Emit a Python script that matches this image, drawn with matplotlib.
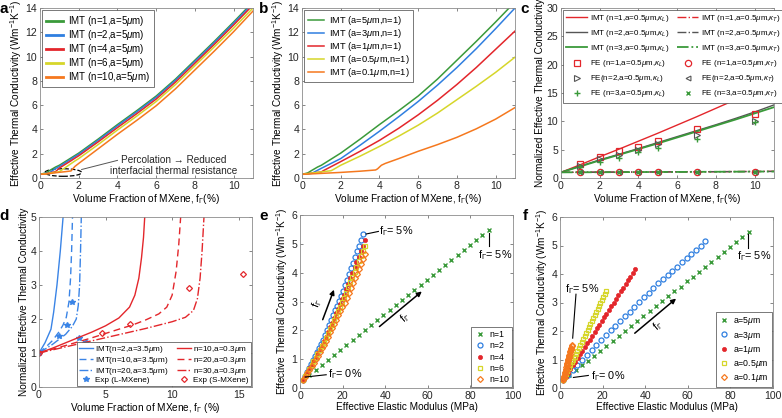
import matplotlib
matplotlib.use('Agg')
import matplotlib.pyplot as plt
from matplotlib.patches import Ellipse

plt.rcParams['font.family'] = ['Liberation Sans', 'DejaVu Sans']
plt.rcParams['mathtext.fontset'] = 'custom'
plt.rcParams['mathtext.rm'] = 'Liberation Sans'
plt.rcParams['mathtext.it'] = 'Liberation Sans:italic'
plt.rcParams['mathtext.bf'] = 'Liberation Sans:bold'

GREEN = '#3a9a3a'; BLUE = '#2f7fe0'; RED = '#e3262b'; YELLOW = '#d6d62a'
ORANGE = '#f5781e'; GRAY = '#555555'

# ---------------- Panel a data ----------------
xa = [0, 0.3, 0.5, 0.8, 1.0, 1.3, 1.6, 1.8, 2.0, 3, 4, 5, 6, 7, 8, 9, 10, 11]
a_n1 = [0.3, 0.42, 0.62, 0.9, 1.05, 1.35, 1.65, 1.85, 2.05, 3.2, 4.4, 5.55, 6.75, 8.15, 9.7, 11.25, 12.85, 14.5]
a_n2 = [0.3, 0.38, 0.45, 0.78, 0.95, 1.25, 1.55, 1.76, 1.96, 3.1, 4.3, 5.45, 6.65, 8.05, 9.6, 11.15, 12.75, 14.4]
a_n4 = [0.3, 0.36, 0.42, 0.52, 0.82, 1.12, 1.42, 1.63, 1.83, 2.97, 4.15, 5.3, 6.5, 7.9, 9.45, 11.0, 12.6, 14.25]
a_n6 = [0.3, 0.35, 0.4, 0.47, 0.52, 0.85, 1.18, 1.4, 1.6, 2.75, 3.95, 5.1, 6.3, 7.7, 9.25, 10.8, 12.35, 14.0]
a_n10 = [0.3, 0.33, 0.37, 0.43, 0.47, 0.52, 0.58, 0.95, 1.2, 2.4, 3.6, 4.75, 5.95, 7.35, 8.9, 10.45, 12.05, 13.75]
a_labels = ['IMT (n=1,a=5$\\mu$m)', 'IMT (n=2,a=5$\\mu$m)', 'IMT (n=4,a=5$\\mu$m)',
            'IMT (n=6,a=5$\\mu$m)', 'IMT (n=10,a=5$\\mu$m)']

# ---------------- Panel b data ----------------
b_a5_x = xa
b_a5_y = a_n1
b_a3_x = [0, 0.5, 1, 2, 3, 4, 5, 6, 7, 8, 9, 10, 11]
b_a3_y = [0.3, 0.38, 0.8, 1.6, 2.7, 3.85, 5.05, 6.3, 7.65, 9.1, 10.65, 12.3, 14.0]
b_a1_x = [0, 0.5, 1.0, 1.1, 2, 3, 4, 5, 6, 7, 8, 9, 10, 11]
b_a1_y = [0.3, 0.4, 0.5, 0.6, 1.35, 2.2, 3.1, 4.1, 5.2, 6.4, 7.7, 9.1, 10.6, 12.1]
b_a05_x = [0, 1.5, 1.6, 2, 3, 4, 5, 6, 7, 8, 9, 10, 11]
b_a05_y = [0.3, 0.6, 0.68, 1.05, 1.8, 2.6, 3.45, 4.35, 5.35, 6.45, 7.55, 8.7, 9.95]
b_a01_x = [0, 1, 2, 3, 3.8, 3.9, 4.1, 4.3, 5, 6, 7, 8, 9, 10, 11]
b_a01_y = [0.3, 0.38, 0.46, 0.56, 0.66, 0.75, 1.05, 1.2, 1.6, 2.2, 2.75, 3.35, 4.05, 4.85, 5.8]
b_labels = ['IMT (a=5$\\mu$m,n=1)', 'IMT (a=3$\\mu$m,n=1)', 'IMT (a=1$\\mu$m,n=1)',
            'IMT (a=0.5$\\mu$m,n=1)', 'IMT (a=0.1$\\mu$m,n=1)']

# ---------------- Panel c data ----------------
xc = [0, 1, 2, 3, 4, 5, 6, 7, 8, 9, 10, 11]
c_L_n1 = [1.0, 2.35, 3.75, 5.1, 6.5, 7.9, 9.35, 10.8, 12.3, 13.8, 15.3, 16.8]
c_L_n2 = [1.0, 2.1, 3.2, 4.2, 5.2, 6.25, 7.3, 8.35, 9.4, 10.5, 11.65, 12.9]
c_L_n3 = [1.0, 2.05, 3.1, 4.1, 5.1, 6.1, 7.15, 8.2, 9.25, 10.3, 11.4, 12.5]
xcT = [0, 2, 4, 6, 8, 10, 11]
c_T_n1 = [1.0, 1.03, 1.06, 1.09, 1.12, 1.16, 1.18]
c_T_n2 = [1.0, 1.03, 1.05, 1.08, 1.11, 1.14, 1.16]
c_T_n3 = [1.0, 1.02, 1.05, 1.07, 1.10, 1.13, 1.15]
c_fe_x = [1, 2, 3, 4, 5, 7, 10]
c_fe_L_n1 = [2.4, 3.7, 4.8, 5.5, 6.5, 8.7, 11.3]
c_fe_L_n2 = [2.2, 3.3, 4.0, 4.9, 6.0, 7.6, 10.0]
c_fe_L_n3 = [1.9, 2.9, 3.6, 4.6, 5.3, 6.8, 9.9]
c_fe_T_n1 = [1.0, 1.0, 1.0, 1.0, 1.0, 1.05, 1.08]
c_fe_T_n2 = [1.0, 1.0, 1.0, 1.0, 1.0, 1.02, 1.05]
c_fe_T_n3 = [1.0, 1.0, 1.0, 1.0, 1.0, 1.02, 1.05]

# ---------------- Panel d data ----------------
d_b2_x = [0, 0.45, 0.9, 1.1, 1.35, 1.6, 1.82]
d_b2_y = [1.0, 1.3, 1.7, 2.2, 3.0, 4.0, 5.05]
d_b10_x = [0, 0.5, 1.0, 1.5, 1.8, 2.05, 2.25, 2.37, 2.45, 2.52]
d_b10_y = [1.0, 1.17, 1.36, 1.62, 1.82, 2.05, 2.5, 3.2, 4.0, 5.05]
d_b20_x = [0, 1, 2, 2.5, 2.8, 2.95, 3.05, 3.12, 3.18]
d_b20_y = [1.0, 1.25, 1.55, 1.78, 2.0, 2.4, 3.0, 4.0, 5.05]
d_r10_x = [0, 1, 2, 3, 4, 5, 6, 6.8, 7.2, 7.5, 7.7, 7.85, 7.95]
d_r10_y = [1.0, 1.14, 1.3, 1.46, 1.62, 1.8, 2.03, 2.35, 2.7, 3.2, 3.8, 4.4, 5.05]
d_r20_x = [0, 2, 4, 6, 7, 8, 9, 9.6, 10.0, 10.3, 10.5, 10.65]
d_r20_y = [1.0, 1.22, 1.45, 1.7, 1.82, 1.97, 2.15, 2.35, 2.7, 3.4, 4.2, 5.05]
d_r30_x = [0, 2, 4, 6, 8, 10, 11, 11.6, 11.9, 12.1, 12.25, 12.4]
d_r30_y = [1.0, 1.18, 1.36, 1.54, 1.72, 1.92, 2.05, 2.25, 2.6, 3.2, 4.0, 5.05]
d_expL_x = [0, 1.5, 2.1, 2.5, 3.0, 3.5]
d_expL_y = [1.0, 1.5, 1.83, 2.5, 1.45, 1.33]
d_expS_x = [0, 4.7, 6.8, 11.3, 15.3]
d_expS_y = [1.0, 1.6, 1.85, 2.9, 3.32]

# ---------------- Panel e / f data (modulus MPa, conductivity) ----------------
g_E = [1.5, 4.4, 7.3, 10.2, 13.1, 16.0, 18.9, 21.8, 24.7, 27.6, 30.5, 33.4, 36.3, 39.2, 42.1, 45.0,
       47.9, 50.8, 53.7, 56.6, 59.5, 62.4, 65.3, 68.2, 71.1, 74.0, 76.9, 79.8, 82.7, 85.6, 88.5]
g_k = [0.27, 0.44, 0.62, 0.79, 0.96, 1.14, 1.31, 1.48, 1.66, 1.83, 2.00, 2.18, 2.35, 2.52, 2.70, 2.87,
       3.04, 3.22, 3.39, 3.56, 3.74, 3.91, 4.08, 4.26, 4.43, 4.60, 4.78, 4.95, 5.12, 5.30, 5.47]
e_n2_E = [1.5, 2.4, 3.4, 4.3, 5.2, 6.2, 7.1, 8.1, 9.0, 9.9, 10.9, 11.8, 12.7, 13.7, 14.6, 15.6,
          16.5, 17.4, 18.4, 19.3, 20.2, 21.2, 22.1, 23.1, 24.0, 24.9, 25.9, 26.8, 27.7, 28.7, 29.6]
e_n2_k = [0.27, 0.41, 0.55, 0.69, 0.83, 0.97, 1.11, 1.25, 1.39, 1.53, 1.67, 1.84, 2.01, 2.18, 2.35, 2.52,
          2.69, 2.86, 3.03, 3.20, 3.37, 3.57, 3.76, 3.96, 4.16, 4.35, 4.55, 4.74, 4.94, 5.14, 5.33]
e_n4_E = [1.5, 2.5, 3.4, 4.4, 5.4, 6.3, 7.3, 8.2, 9.2, 10.2, 11.1, 12.1, 13.1, 14.0, 15.0, 15.9,
          16.9, 17.9, 18.8, 19.8, 20.8, 21.7, 22.7, 23.6, 24.6, 25.6, 26.5, 27.5, 28.5, 29.4, 30.4]
e_n4_k = [0.27, 0.41, 0.54, 0.68, 0.81, 0.95, 1.08, 1.22, 1.35, 1.49, 1.62, 1.78, 1.94, 2.11, 2.27, 2.43,
          2.59, 2.75, 2.92, 3.08, 3.24, 3.43, 3.62, 3.80, 3.99, 4.18, 4.37, 4.56, 4.74, 4.93, 5.12]
e_n6_E = e_n4_E
e_n6_k = [0.27, 0.40, 0.53, 0.66, 0.79, 0.92, 1.05, 1.18, 1.31, 1.44, 1.57, 1.73, 1.88, 2.04, 2.19, 2.35,
          2.51, 2.66, 2.82, 2.97, 3.13, 3.31, 3.49, 3.67, 3.85, 4.03, 4.21, 4.39, 4.57, 4.75, 4.93]
e_n10_E = [1.5, 2.5, 3.4, 4.4, 5.4, 6.4, 7.3, 8.3, 9.3, 10.2, 11.2, 12.2, 13.1, 14.1, 15.1, 16.1,
           17.0, 18.0, 19.0, 19.9, 20.9, 21.9, 22.8, 23.8, 24.8, 25.8, 26.7, 27.7, 28.7, 29.6, 30.6]
e_n10_k = [0.27, 0.39, 0.51, 0.64, 0.76, 0.88, 1.00, 1.12, 1.25, 1.37, 1.49, 1.64, 1.78, 1.93, 2.08, 2.22,
           2.37, 2.52, 2.66, 2.81, 2.96, 3.13, 3.30, 3.46, 3.63, 3.80, 3.97, 4.13, 4.30, 4.47, 4.64]

f_a3_E = [1.5, 3.7, 6.0, 8.2, 10.4, 12.6, 14.9, 17.1, 19.3, 21.5, 23.8, 26.0, 28.2, 30.5, 32.7, 34.9,
          37.1, 39.4, 41.6, 43.8, 46.0, 48.3, 50.5, 52.7, 54.9, 57.2, 59.4, 61.6, 63.9, 66.1, 68.3]
f_a3_k = [0.27, 0.45, 0.62, 0.80, 0.97, 1.15, 1.32, 1.50, 1.67, 1.85, 2.02, 2.19, 2.35, 2.52, 2.68, 2.85,
          3.01, 3.18, 3.34, 3.51, 3.67, 3.82, 3.97, 4.11, 4.26, 4.41, 4.56, 4.71, 4.85, 5.00, 5.15]
f_a1_E = [1.5, 2.6, 3.8, 4.9, 6.0, 7.1, 8.3, 9.4, 10.5, 11.6, 12.8, 13.9, 15.0, 16.2, 17.3, 18.4,
          19.5, 20.7, 21.8, 22.9, 24.0, 25.2, 26.3, 27.4, 28.5, 29.7, 30.8, 31.9, 33.0, 34.2, 35.3]
f_a1_k = [0.27, 0.40, 0.53, 0.66, 0.79, 0.92, 1.05, 1.18, 1.31, 1.44, 1.57, 1.70, 1.83, 1.96, 2.09, 2.22,
          2.35, 2.48, 2.61, 2.74, 2.87, 3.00, 3.13, 3.26, 3.39, 3.52, 3.65, 3.78, 3.91, 4.04, 4.17]
f_a05_E = [1.5, 2.2, 2.8, 3.5, 4.2, 4.9, 5.5, 6.2, 6.9, 7.6, 8.2, 8.9, 9.6, 10.3, 10.9, 11.6,
           12.3, 13.0, 13.6, 14.3, 15.0, 15.7, 16.3, 17.0, 17.7, 18.3, 19.0, 19.7, 20.4, 21.0, 21.7]
f_a05_k = [0.27, 0.37, 0.48, 0.58, 0.69, 0.79, 0.90, 1.00, 1.10, 1.21, 1.31, 1.42, 1.52, 1.63, 1.73, 1.84,
           1.94, 2.04, 2.15, 2.25, 2.36, 2.46, 2.57, 2.67, 2.77, 2.88, 2.98, 3.09, 3.19, 3.30, 3.40]
f_a01_E = [1.5, 1.6, 1.8, 1.9, 2.0, 2.2, 2.3, 2.4, 2.6, 2.7, 2.8, 3.0, 3.1, 3.2, 3.4, 3.5,
           3.6, 3.8, 3.9, 4.0, 4.2, 4.3, 4.4, 4.6, 4.7, 4.8, 5.0, 5.1, 5.2, 5.4, 5.5]
f_a01_k = [0.27, 0.31, 0.35, 0.39, 0.43, 0.48, 0.52, 0.56, 0.60, 0.64, 0.68, 0.72, 0.76, 0.80, 0.84, 0.89,
           0.93, 0.97, 1.01, 1.05, 1.09, 1.13, 1.17, 1.21, 1.25, 1.30, 1.34, 1.38, 1.42, 1.46, 1.50]

# ---------------- Figure ----------------
fig = plt.figure(figsize=(7.82, 4.18), dpi=100)
W, H = 782.0, 418.0


def add_ax(l, r, t, b):
    return fig.add_axes([l / W, 1 - b / H, (r - l) / W, (b - t) / H])


TICK_FS = 7.6
LAB_FS = 7.2


def style(ax):
    for s in ax.spines.values():
        s.set_color('#8c8c8c')
        s.set_linewidth(0.6)
    ax.tick_params(direction='in', top=True, right=True, length=2.5, width=0.5,
                   color='#555555', labelsize=TICK_FS, labelcolor='#262626', pad=2)


def frame(leg):
    leg.get_frame().set_edgecolor('#444444')
    leg.get_frame().set_linewidth(0.5)


ax_a = add_ax(40, 253, 8, 178)
ax_b = add_ax(302, 515, 8, 178)
ax_c = add_ax(561, 774, 8, 178)
ax_d = add_ax(39, 252, 217, 387)
ax_e = add_ax(300, 513, 215, 388)
ax_f = add_ax(560, 773, 217, 388)

kx_label = 'Volume Fraction of MXene, f$_\\Gamma$(%)'
k_label = 'Effective Thermal Conductivity (Wm$^{-1}$K$^{-1}$)'

# ---- a ----
ax = ax_a
for y, c, lab in zip([a_n1, a_n2, a_n4, a_n6, a_n10], [GREEN, BLUE, RED, YELLOW, ORANGE], a_labels):
    ax.plot(xa, y, color=c, lw=1.1, label=lab)
ax.set_xlim(0, 11); ax.set_ylim(0, 14)
ax.set_xticks([0, 2, 4, 6, 8, 10]); ax.set_yticks(range(0, 15, 2))
style(ax)
ax.set_xlabel(kx_label, fontsize=LAB_FS, labelpad=1)
ax.set_ylabel(k_label, fontsize=LAB_FS, labelpad=1)
leg = ax.legend(loc='upper left', fontsize=7.0, handlelength=1.8, labelspacing=0.0,
                handleheight=0.5, borderpad=0.35, handletextpad=0.5, fancybox=False,
                framealpha=1, borderaxespad=0.25)
frame(leg)
for l in leg.get_lines():
    l.set_linewidth(2.0)
ax.add_patch(Ellipse((1.2, 0.45), 1.9, 0.62, fill=False, ls='--', lw=0.9, ec='k'))
ax.plot([2.15, 4.0], [0.7, 1.45], color='#555555', lw=0.7)
ax.text(6.9, 1.5, 'Percolation \u2192 Reduced', fontsize=7.2, ha='center', va='center', color='#262626')
ax.text(6.9, 0.6, 'interfacial thermal resistance', fontsize=7.2, ha='center', va='center', color='#262626')

# ---- b ----
ax = ax_b
for x, y, c, lab in zip([b_a5_x, b_a3_x, b_a1_x, b_a05_x, b_a01_x],
                        [b_a5_y, b_a3_y, b_a1_y, b_a05_y, b_a01_y],
                        [GREEN, BLUE, RED, YELLOW, ORANGE], b_labels):
    ax.plot(x, y, color=c, lw=1.1, label=lab)
ax.set_xlim(0, 11); ax.set_ylim(0, 14)
ax.set_xticks([0, 2, 4, 6, 8, 10]); ax.set_yticks(range(0, 15, 2))
style(ax)
ax.set_xlabel(kx_label, fontsize=LAB_FS, labelpad=1)
ax.set_ylabel(k_label, fontsize=LAB_FS, labelpad=1)
leg = ax.legend(loc='upper left', fontsize=6.7, handlelength=1.8, labelspacing=0.0,
                handleheight=0.5, borderpad=0.35, handletextpad=0.5, fancybox=False,
                framealpha=1, borderaxespad=0.25)
frame(leg)

# ---- c ----
ax = ax_c
h = []
h.append(ax.plot(xc, c_L_n1, color=RED, lw=1.0, label='IMT (n=1,a=0.5$\\mu$m,$\\kappa_L$)')[0])
h.append(ax.plot(xc, c_L_n2, color=GRAY, lw=1.0, label='IMT (n=2,a=0.5$\\mu$m,$\\kappa_L$)')[0])
h.append(ax.plot(xc, c_L_n3, color=GREEN, lw=1.3, label='IMT (n=3,a=0.5$\\mu$m,$\\kappa_L$)')[0])
h.append(ax.plot(c_fe_x, c_fe_L_n1, ls='none', marker='s', ms=4, mfc='none', mec=RED, mew=0.9,
                 label='FE (n=1,a=0.5$\\mu$m,$\\kappa_L$)')[0])
h.append(ax.plot(c_fe_x, c_fe_L_n2, ls='none', marker='>', ms=4, mfc='none', mec=GRAY, mew=0.8,
                 label='FE(n=2,a=0.5$\\mu$m,$\\kappa_L$)')[0])
h.append(ax.plot(c_fe_x, c_fe_L_n3, ls='none', marker='+', ms=5, mec=GREEN, mew=1.0,
                 label='FE (n=3,a=0.5$\\mu$m,$\\kappa_L$)')[0])
h.append(ax.plot(xcT, c_T_n1, color=RED, lw=1.0, ls='-.', label='IMT (n=1,a=0.5$\\mu$m,$\\kappa_T$)')[0])
h.append(ax.plot(xcT, c_T_n2, color=GRAY, lw=1.0, ls='-.', label='IMT (n=2,a=0.5$\\mu$m,$\\kappa_T$)')[0])
h.append(ax.plot(xcT, c_T_n3, color=GREEN, lw=1.3, ls='-.', label='IMT (n=3,a=0.5$\\mu$m,$\\kappa_T$)')[0])
h.append(ax.plot(c_fe_x, c_fe_T_n1, ls='none', marker='o', ms=4.5, mfc='none', mec=RED, mew=0.9,
                 label='FE (n=1,a=0.5$\\mu$m,$\\kappa_T$)')[0])
h.append(ax.plot(c_fe_x, c_fe_T_n2, ls='none', marker='<', ms=3.5, mfc='none', mec=GRAY, mew=0.8,
                 label='FE(n=2,a=0.5$\\mu$m,$\\kappa_T$)')[0])
h.append(ax.plot(c_fe_x, c_fe_T_n3, ls='none', marker='x', ms=3.5, mec=GREEN, mew=1.0,
                 label='FE (n=3,a=0.5$\\mu$m,$\\kappa_T$)')[0])
ax.set_xlim(0, 11); ax.set_ylim(0, 30)
ax.set_xticks([0, 2, 4, 6, 8, 10]); ax.set_yticks(range(0, 31, 5))
style(ax)
ax.set_xlabel(kx_label, fontsize=LAB_FS, labelpad=1)
ax.set_ylabel('Normalized Effective Thermal Conductivity', fontsize=LAB_FS, labelpad=1)
leg = ax.legend(handles=h, ncol=2, loc='upper left', fontsize=5.8, handlelength=2.6,
                labelspacing=0.5, borderpad=0.4, handletextpad=0.4, columnspacing=0.9,
                fancybox=False, framealpha=1, borderaxespad=0.25)
frame(leg)

# ---- d ----
ax = ax_d
BL = '#3a84e6'
hd = []
hd.append(ax.plot(d_b2_x, d_b2_y, color=BL, lw=1.0, label='IMT(n=2,a=3.5$\\mu$m)')[0])
hd.append(ax.plot(d_b10_x, d_b10_y, color=BL, lw=1.0, ls=(0, (5, 3)), label='IMT(n=10,a=3.5$\\mu$m)')[0])
hd.append(ax.plot(d_b20_x, d_b20_y, color=BL, lw=1.0, ls='-.', label='IMT(n=20,a=3.5$\\mu$m)')[0])
hd.append(ax.plot(d_expL_x, d_expL_y, ls='none', marker='*', ms=4.0, color=BL, label='Exp (L-MXene)')[0])
hd.append(ax.plot(d_r10_x, d_r10_y, color=RED, lw=1.0, label='n=10,a=0.3$\\mu$m')[0])
hd.append(ax.plot(d_r20_x, d_r20_y, color=RED, lw=1.0, ls=(0, (5, 3)), label='n=20,a=0.3$\\mu$m')[0])
hd.append(ax.plot(d_r30_x, d_r30_y, color=RED, lw=1.0, ls='-.', label='n=30,a=0.3$\\mu$m')[0])
hd.append(ax.plot(d_expS_x, d_expS_y, ls='none', marker='D', ms=3.0, mfc='none', mec=RED, mew=0.9,
                  label='Exp (S-MXene)')[0])
ax.set_xlim(0, 16); ax.set_ylim(0, 5)
ax.set_xticks([0, 5, 10, 15]); ax.set_yticks(range(0, 6))
style(ax)
ax.set_xlabel('Volume Fraction of MXene, f$_\\Gamma$ (%)', fontsize=LAB_FS, labelpad=1)
ax.set_ylabel('Normalized Effective Thermal Conductivity', fontsize=LAB_FS, labelpad=1)
leg = ax.legend(handles=hd, ncol=2, loc='lower right', fontsize=5.9, handlelength=1.7,
                handleheight=0.4, labelspacing=0.0, borderpad=0.25, handletextpad=0.3,
                columnspacing=1.0, fancybox=False, framealpha=1, borderaxespad=0.15)
frame(leg)

# ---- e / f helpers ----
def mk(ax, E, k, kind, color, label):
    if kind == 'x':
        ax.plot(E, k, ls='none', marker='x', ms=3.3, mec=color, mew=1.0, label=label)
    elif kind == 'o':
        ax.plot(E, k, ls='none', marker='o', ms=3.6, mfc='none', mec=color, mew=0.9, label=label)
    elif kind == '.':
        ax.plot(E, k, ls='none', marker='o', ms=3.0, mfc=color, mec=color, mew=0.5, label=label)
    elif kind == 's':
        ax.plot(E, k, ls='none', marker='s', ms=3.0, mfc='none', mec=color, mew=0.9, label=label)
    elif kind == 'd':
        ax.plot(E, k, ls='none', marker='D', ms=3.0, mfc='none', mec=color, mew=0.9, label=label)


AFS = 7.8
ax = ax_e
mk(ax, g_E, g_k, 'x', GREEN, 'n=1')
mk(ax, e_n2_E, e_n2_k, 'o', BLUE, 'n=2')
mk(ax, e_n4_E, e_n4_k, '.', RED, 'n=4')
mk(ax, e_n6_E, e_n6_k, 's', YELLOW, 'n=6')
mk(ax, e_n10_E, e_n10_k, 'd', ORANGE, 'n=10')
ax.set_xlim(0, 100); ax.set_ylim(0, 6)
ax.set_xticks(range(0, 101, 20)); ax.set_yticks(range(0, 7))
style(ax)
ax.set_xlabel('Effective Elastic Modulus (MPa)', fontsize=LAB_FS, labelpad=1)
ax.set_ylabel(k_label, fontsize=LAB_FS, labelpad=1)
leg = ax.legend(loc='lower right', fontsize=6.3, handlelength=1.2, labelspacing=0.25,
                borderpad=0.35, handletextpad=0.5, fancybox=False, framealpha=1, borderaxespad=0.1)
frame(leg)
ax.plot([31.0, 36.8], [5.34, 5.43], color='k', lw=0.8)
ax.text(37.3, 5.43, 'f$_\\Gamma$= 5%', fontsize=AFS, va='center', ha='left')
ax.plot([88.6, 88.6], [5.36, 4.92], color='k', lw=0.8)
ax.text(83.5, 4.6, 'f$_\\Gamma$= 5%', fontsize=AFS, va='center', ha='left')
ax.plot([2.5, 12.3], [0.38, 0.46], color='k', lw=0.8)
ax.text(13.0, 0.48, 'f$_\\Gamma$= 0%', fontsize=AFS, va='center', ha='left')
ax.annotate('', xy=(16.4, 3.5), xytext=(10.2, 2.28),
            arrowprops=dict(arrowstyle='-|>', color='k', lw=1.1, mutation_scale=7))
ax.text(8.3, 2.95, 'f$_\\Gamma$', fontsize=AFS, rotation=69, ha='center', va='center')
ax.annotate('', xy=(58.2, 3.41), xytext=(36.3, 2.07),
            arrowprops=dict(arrowstyle='-|>', color='k', lw=1.1, mutation_scale=7))
ax.text(49.6, 2.42, 'f$_\\Gamma$', fontsize=AFS, rotation=39, ha='center', va='center')

ax = ax_f
mk(ax, g_E, g_k, 'x', GREEN, 'a=5$\\mu$m')
mk(ax, f_a3_E, f_a3_k, 'o', BLUE, 'a=3$\\mu$m')
mk(ax, f_a1_E, f_a1_k, '.', RED, 'a=1$\\mu$m')
mk(ax, f_a05_E, f_a05_k, 's', YELLOW, 'a=0.5$\\mu$m')
mk(ax, f_a01_E, f_a01_k, 'd', ORANGE, 'a=0.1$\\mu$m')
ax.set_xlim(0, 100); ax.set_ylim(0, 6)
ax.set_xticks(range(0, 101, 20)); ax.set_yticks(range(0, 7))
style(ax)
ax.set_xlabel('Effective Elastic Modulus (MPa)', fontsize=LAB_FS, labelpad=1)
ax.set_ylabel(k_label, fontsize=LAB_FS, labelpad=1)
leg = ax.legend(loc='lower right', fontsize=6.3, handlelength=1.2, labelspacing=0.25,
                borderpad=0.35, handletextpad=0.5, fancybox=False, framealpha=1, borderaxespad=0.1)
frame(leg)
ax.plot([7.5, 5.95], [3.29, 1.75], color='k', lw=0.8)
ax.text(2.3, 3.47, 'f$_\\Gamma$= 5%', fontsize=AFS, va='center', ha='left')
ax.plot([88.3, 88.3], [5.42, 4.92], color='k', lw=0.8)
ax.text(83.3, 4.62, 'f$_\\Gamma$= 5%', fontsize=AFS, va='center', ha='left')
ax.plot([6.3, 13.3], [0.37, 0.44], color='k', lw=0.8)
ax.text(14.6, 0.42, 'f$_\\Gamma$= 0%', fontsize=AFS, va='center', ha='left')
ax.annotate('', xy=(55.5, 3.2), xytext=(34.1, 1.86),
            arrowprops=dict(arrowstyle='-|>', color='k', lw=1.1, mutation_scale=7))
ax.text(46.1, 2.2, 'f$_\\Gamma$', fontsize=AFS, rotation=40, ha='center', va='center')

# panel letters
for lx, ly, s in [(4, 13, 'a'), (264, 13, 'b'), (525, 13, 'c'),
                  (4, 220, 'd'), (264, 220, 'e'), (525, 220, 'f')]:
    fig.text(lx / W, 1 - ly / H, s, fontsize=11, fontweight='bold', ha='center', va='baseline')

fig.savefig('out.png', dpi=100)
